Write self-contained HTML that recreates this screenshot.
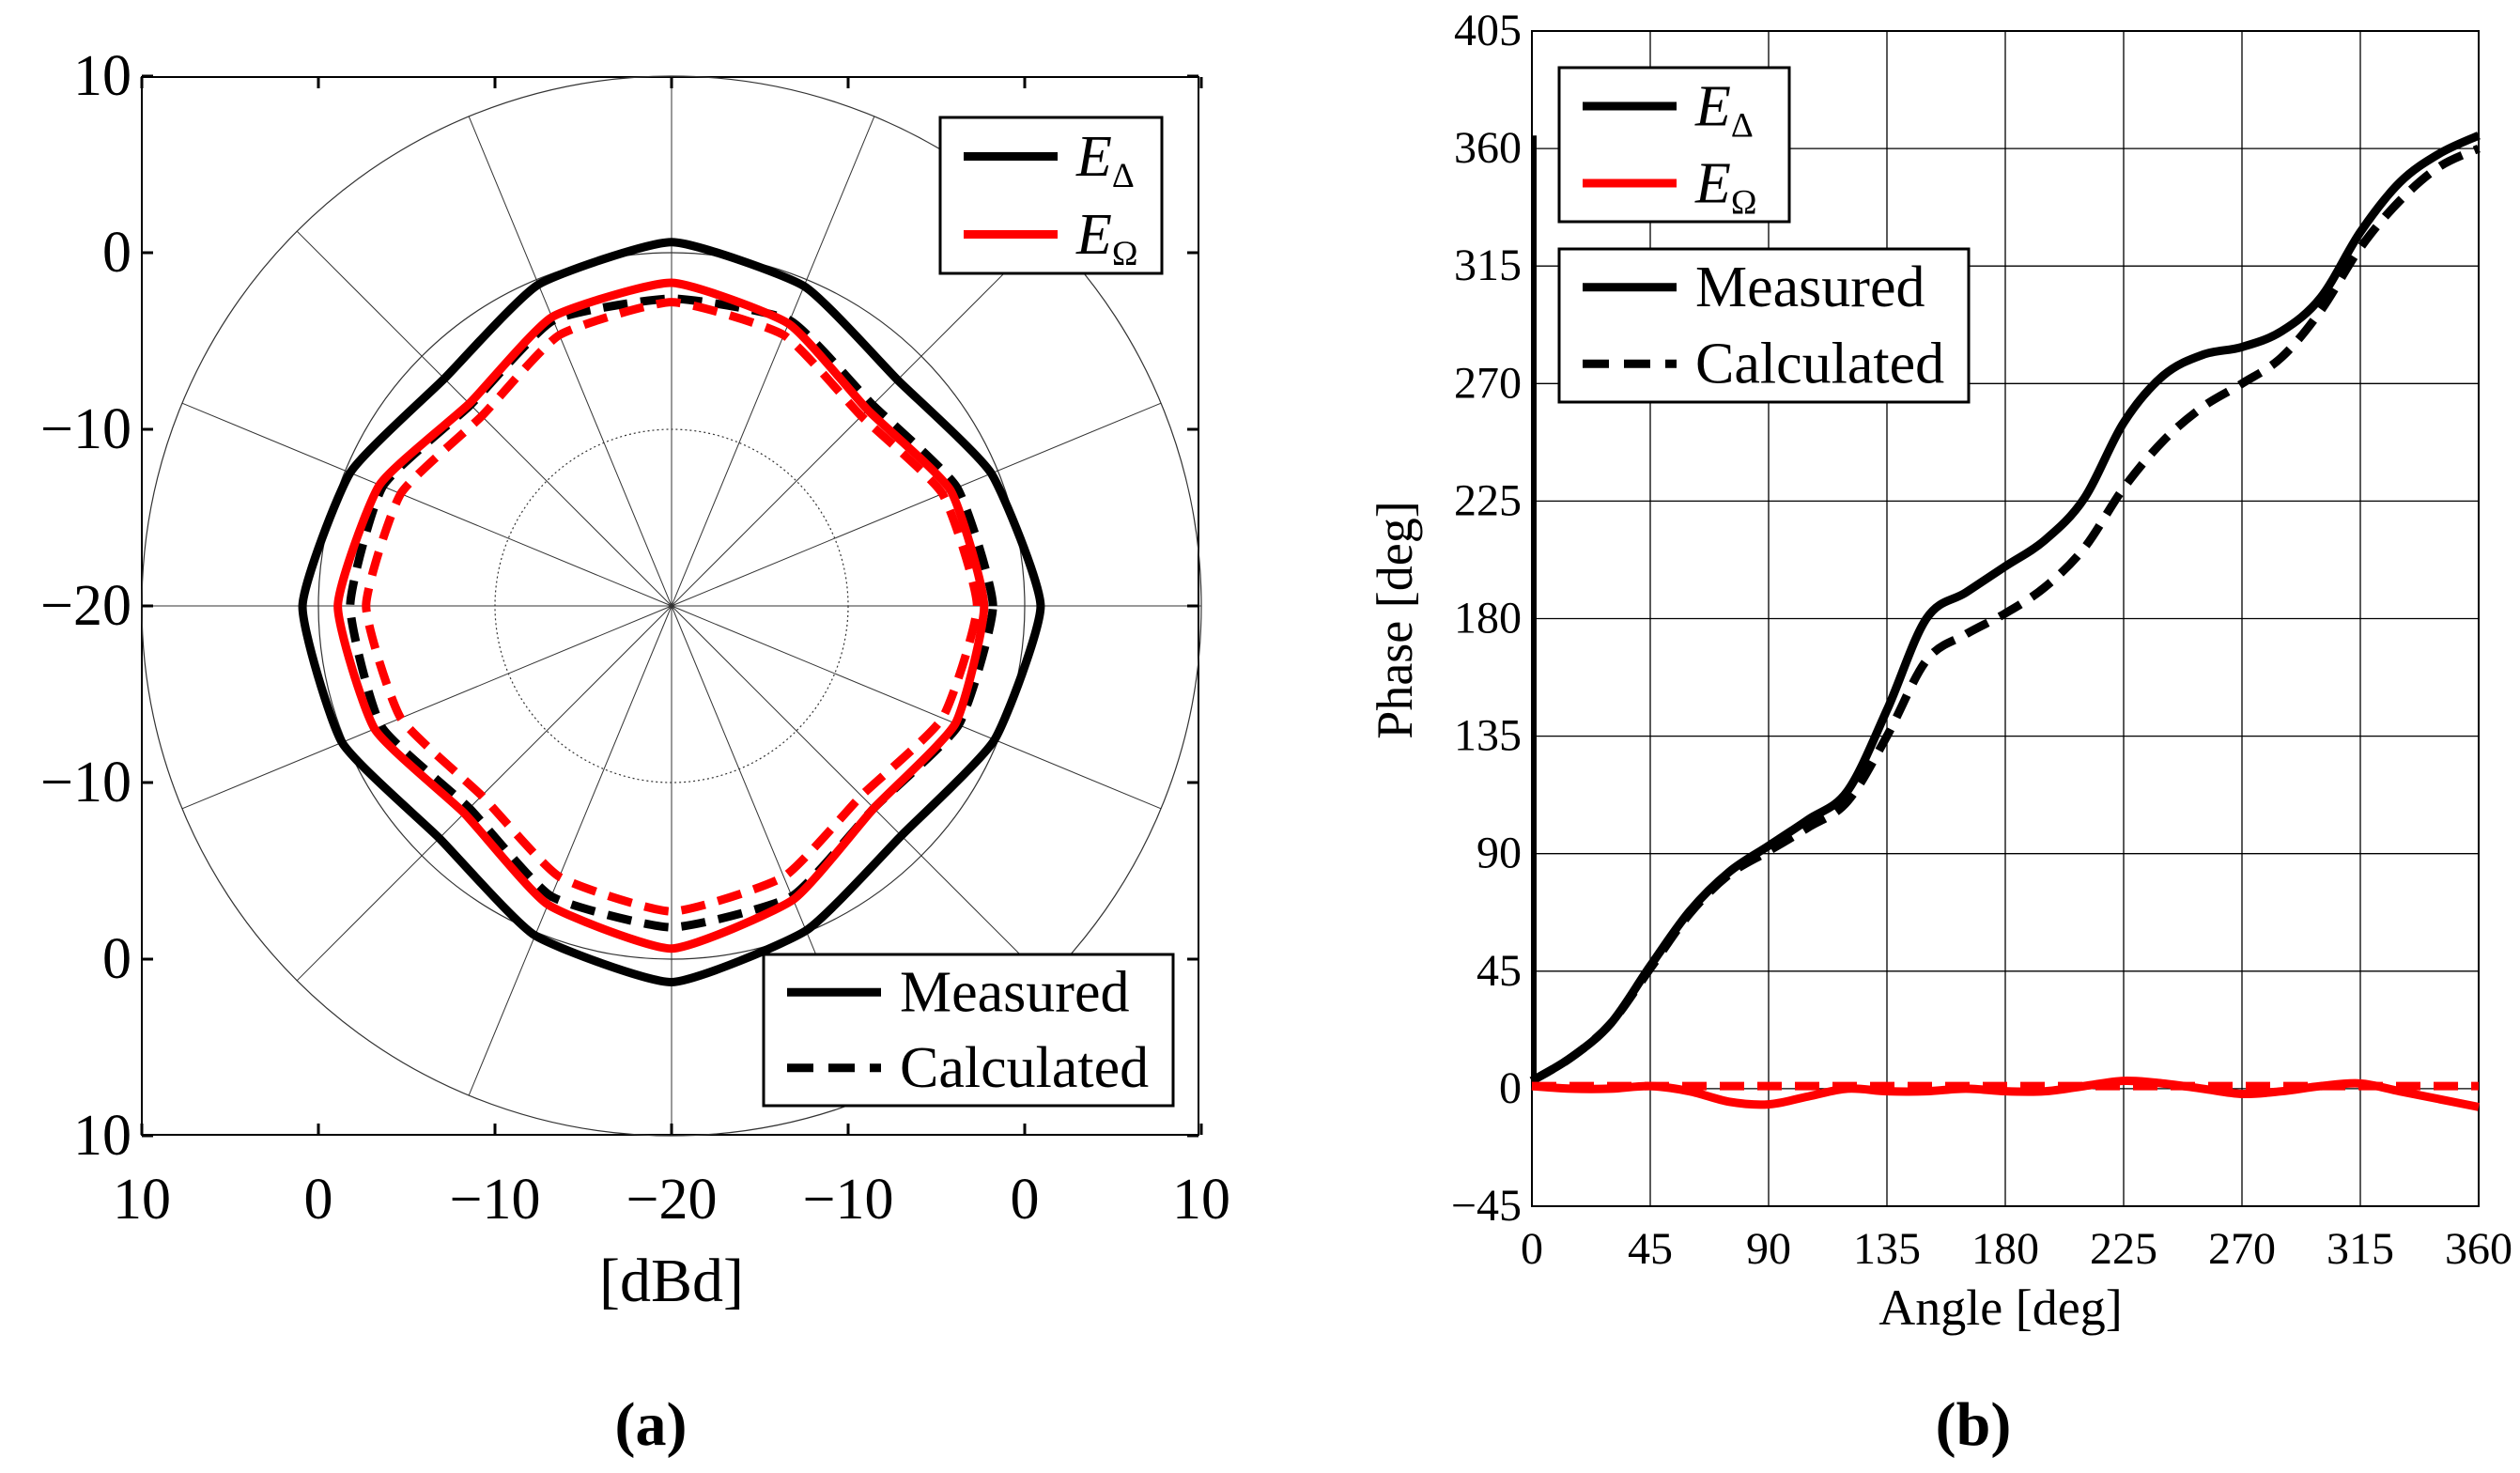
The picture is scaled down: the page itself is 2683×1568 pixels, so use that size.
<!DOCTYPE html>
<html><head><meta charset="utf-8"><style>
body{margin:0;background:#fff;}
svg{display:block;}
svg text{font-family:"Liberation Serif","DejaVu Serif","Times New Roman",serif;}
</style></head><body>
<svg id="fig" width="2683" height="1568" viewBox="0 0 2683 1568" xmlns="http://www.w3.org/2000/svg">
<rect width="2683" height="1568" fill="#fff"/>
<g id="polar"></g>
<g id="phase"></g>
</svg>
<script>
// ---- polar chart data (dB at angles, 22.5 deg steps, 0 = right, CCW) ----
const polarAngles = [0,22.5,45,67.5,90,112.5,135,157.5,180,202.5,225,247.5,270,292.5,315,337.5];
const deltaMeasured = [0.9,-0.4,-1.9,-0.4,0.6,-0.3,-1.8,-0.3,0.9,0.2,-1.4,0.2,1.3,-0.1,-1.6,-0.2];
const deltaCalculated = [-1.8,-2.5,-3.9,-2.5,-2.6,-2.5,-3.9,-2.3,-1.8,-2.2,-3.8,-2.2,-1.8,-2.2,-3.8,-2.4];
const omegaMeasured = [-2.3,-2.9,-4.3,-2.7,-1.7,-2.3,-3.8,-2.1,-1.1,-1.8,-3.4,-1.7,-0.6,-2.0,-3.8,-2.6];
const omegaCalculated = [-2.7,-3.4,-4.8,-3.4,-2.8,-3.4,-4.8,-3.4,-2.7,-3.4,-4.8,-3.4,-2.7,-3.4,-4.8,-3.4];
const polarTickLabels = ["10","0","\u221210","\u221220","\u221210","0","10"];

// ---- phase chart data ----
const phaseAngles = [0,15,30,45,60,75,90,105,120,135,150,165,180,195,210,225,240,255,270,285,300,315,330,345,360];
const phaseDeltaMeasured = [3,12,25,47,68,83,93,103,114,145,180,190,200,210,226,255,273,281,284,290,303,328,347,358,365];
const phaseDeltaCalculated = [3,12,25,46,67,82,91,100,110,135,164,174,182,192,207,230,248,261,270,280,298,322,340,353,360];
const phaseOmegaMeasured = [1,0,0,1,-1,-5,-6,-3,0,-1,-1,0,-1,-1,1,3,2,0,-2,-1,1,2,-1,-4,-7];
const phaseOmegaCalculated = [1,1,1,1,1,1,1,1,1,1,1,1,1,1,1,1,1,1,1,1,1,1,1,1,1];
const phaseXTicks = [0,45,90,135,180,225,270,315,360];
const phaseYTicks = [-45,0,45,90,135,180,225,270,315,360,405];

const NS="http://www.w3.org/2000/svg";
function mk(tag,attrs,parent,txt){const e=document.createElementNS(NS,tag);for(const k in attrs)e.setAttribute(k,attrs[k]);if(txt!==undefined)e.textContent=txt;parent.appendChild(e);return e;}

// ===== POLAR =====
const P=document.getElementById('polar');
const cx=715, cy=645, pxPerDb=18.8, dbMin=-20;
const rOf=db=>(db-dbMin)*pxPerDb;
let e;
e=mk('rect',{x:151,y:82,width:1125,height:1126,fill:'none',stroke:'#000','stroke-width':2},P);


[[-10,'2,3'],[0,''],[10,'']].forEach(([d,da])=>{
  const c=mk('circle',{cx:cx,cy:cy,r:rOf(d),fill:'none',stroke:'#333','stroke-width':1.2,'stroke-dasharray':da},P);
  
  
});
for(let a=0;a<360;a+=22.5){const t=a*Math.PI/180,R=rOf(10);
  const l=mk('line',{x1:cx,y1:cy,x2:cx+R*Math.cos(t),y2:cy-R*Math.sin(t),stroke:'#333','stroke-width':1},P);
  
  
}
const tickPos=[-3,-2,-1,0,1,2,3];
polarTickLabels.forEach((lab,i)=>{
  const y=cy+tickPos[i]*10*pxPerDb, x=cx+tickPos[i]*10*pxPerDb;
  const a=mk('text',{x:140,y:y+20,'font-size':62,'text-anchor':'end'},P,lab);
  
  
  const b=mk('text',{x:x,y:1297,'font-size':62,'text-anchor':'middle'},P,lab);
  
  
  [[151,y,163,y],[1264,y,1276,y],[x,82,x,94],[x,1196,x,1208]].forEach(s=>{mk('line',{x1:s[0],y1:s[1],x2:s[2],y2:s[3],stroke:'#000','stroke-width':3},P);});
});
e=mk('text',{x:715,y:1385,'font-size':66,'text-anchor':'middle'},P,'[dBd]');


function closedPath(vals){
  const k=1/12;
  const pts=polarAngles.map((a,i)=>{const t=a*Math.PI/180,r=rOf(vals[i]);return [cx+r*Math.cos(t),cy-r*Math.sin(t)];});
  const n=pts.length;let d=`M${pts[0][0]},${pts[0][1]}`;
  for(let i=0;i<n;i++){const p0=pts[(i-1+n)%n],p1=pts[i],p2=pts[(i+1)%n],p3=pts[(i+2)%n];
    d+=` C${p1[0]+(p2[0]-p0[0])*k},${p1[1]+(p2[1]-p0[1])*k} ${p2[0]-(p3[0]-p1[0])*k},${p2[1]-(p3[1]-p1[1])*k} ${p2[0]},${p2[1]}`;}
  return d+'Z';
}
[[deltaCalculated,'#000','26,14','delta-calculated-curve'],[omegaCalculated,'#f00','26,14','omega-calculated-curve'],[deltaMeasured,'#000','','delta-measured-curve'],[omegaMeasured,'#f00','','omega-measured-curve']].forEach(([v,c,da,nm])=>{
  const p=mk('path',{d:closedPath(v),fill:'none',stroke:c,'stroke-width':9,'stroke-dasharray':da,'stroke-linejoin':'round'},P);
  
  
});
function legend(parent,x,y,w,h,items,fs,name){
  const g=mk('g',{},parent);
  
  
  mk('rect',{x:x,y:y,width:w,height:h,fill:'#fff',stroke:'#000','stroke-width':3},g);
  items.forEach((it,i)=>{const yy=y+h*(i+0.5)/items.length;
    const ln=mk('line',{x1:x+25,y1:yy,x2:x+125,y2:yy,stroke:it.c,'stroke-width':9,'stroke-dasharray':it.da||''},g);
    
    
    const t=mk('text',{x:x+145,y:yy+fs*0.33,'font-size':fs},g);
    
    
    if(it.sub){mk('tspan',{'font-style':'italic'},t,'E');mk('tspan',{'font-size':fs*0.6,dy:12},t,it.sub);}else t.textContent=it.t;
  });
}
legend(P,1001,125,236,166,[{c:'#000',sub:'\u0394'},{c:'#f00',sub:'\u03A9'}],62,'polar-legend-series');
legend(P,813,1016,436,161,[{c:'#000',t:'Measured'},{c:'#000',da:'28,16',t:'Calculated'}],62,'polar-legend-style');
e=mk('text',{x:693,y:1538,'font-size':66,'font-weight':'bold','text-anchor':'middle'},P,'(a)');



// ===== PHASE =====
const Q=document.getElementById('phase');
const X0=1631,X1=2639,Y0=1284,Y1=33;
const xs=v=>X0+(v-0)/360*(X1-X0);
const ys=v=>Y0-(v+45)/450*(Y0-Y1);
phaseXTicks.forEach(v=>{
  const l=mk('line',{x1:xs(v),y1:Y0,x2:xs(v),y2:Y1,stroke:'#000','stroke-width':1.3},Q);
  
  
  const t=mk('text',{x:xs(v),y:1345,'font-size':48,'text-anchor':'middle'},Q,String(v));
  
  
});
phaseYTicks.forEach(v=>{
  const l=mk('line',{x1:X0,y1:ys(v),x2:X1,y2:ys(v),stroke:'#000','stroke-width':1.3},Q);
  
  
  const t=mk('text',{x:1620,y:ys(v)+15,'font-size':48,'text-anchor':'end'},Q,v<0?'\u2212'+(-v):String(v));
  
  
});
e=mk('rect',{x:X0,y:Y1,width:X1-X0,height:Y0-Y1,fill:'none',stroke:'#000','stroke-width':2},Q);


e=mk('line',{x1:xs(0)+2,y1:ys(phaseDeltaMeasured[0]),x2:xs(0)+2,y2:ys(phaseDeltaMeasured[phaseDeltaMeasured.length-1]),stroke:'#000','stroke-width':6},Q);


function linePath(vals){
  const pts=phaseAngles.map((a,i)=>[xs(a),ys(vals[i])]);let d=`M${pts[0][0]},${pts[0][1]}`;
  for(let i=0;i<pts.length-1;i++){const p0=pts[Math.max(i-1,0)],p1=pts[i],p2=pts[i+1],p3=pts[Math.min(i+2,pts.length-1)];
    d+=` C${p1[0]+(p2[0]-p0[0])/6},${p1[1]+(p2[1]-p0[1])/6} ${p2[0]-(p3[0]-p1[0])/6},${p2[1]-(p3[1]-p1[1])/6} ${p2[0]},${p2[1]}`;}
  return d;
}
[[phaseDeltaCalculated,'#000','26,14','phase-delta-calculated'],[phaseDeltaMeasured,'#000','','phase-delta-measured'],[phaseOmegaCalculated,'#f00','26,14','phase-omega-calculated'],[phaseOmegaMeasured,'#f00','','phase-omega-measured']].forEach(([v,c,da,nm])=>{
  const p=mk('path',{d:linePath(v),fill:'none',stroke:c,'stroke-width':9,'stroke-dasharray':da},Q);
  
  
});
legend(Q,1660,72,245,164,[{c:'#000',sub:'\u0394'},{c:'#f00',sub:'\u03A9'}],62,'phase-legend-series');
legend(Q,1660,265,436,163,[{c:'#000',t:'Measured'},{c:'#000',da:'28,16',t:'Calculated'}],62,'phase-legend-style');
e=mk('text',{x:2130,y:1410,'font-size':54,'text-anchor':'middle'},Q,'Angle [deg]');


e=mk('text',{x:0,y:0,'font-size':54,'text-anchor':'middle',transform:'translate(1503,660) rotate(-90)'},Q,'Phase [deg]');


e=mk('text',{x:2101,y:1538,'font-size':66,'font-weight':'bold','text-anchor':'middle'},Q,'(b)');


</script>
</body></html>
